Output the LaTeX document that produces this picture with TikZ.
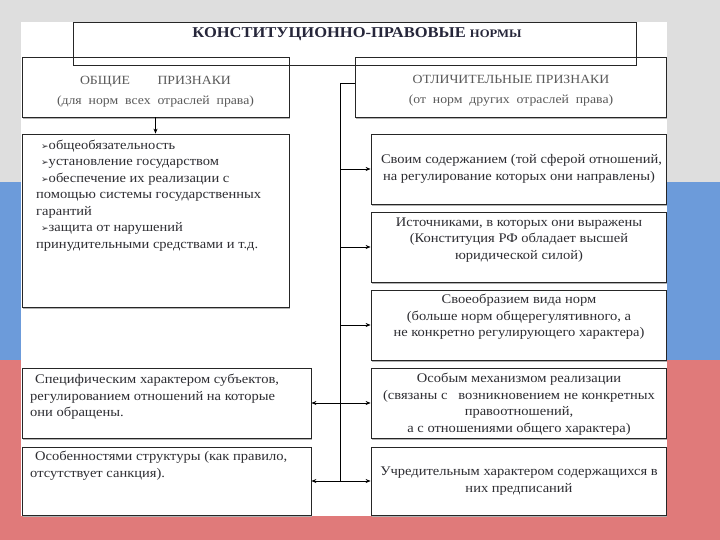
\documentclass[tikz,border=0pt]{standalone}
\usepackage{fontspec}
\setmainfont{Liberation Serif}[FakeStretch=1.1]
\newfontfamily\symfont{DejaVu Sans}
\usetikzlibrary{arrows.meta,shadows}
\definecolor{flagblue}{RGB}{108,155,218}
\definecolor{flagred}{RGB}{224,122,122}
\definecolor{bggray}{RGB}{222,222,222}
\definecolor{txtcol}{RGB}{45,45,50}
\definecolor{titlecol}{RGB}{38,38,58}
\newcommand{\bul}{{\symfont\fontsize{9}{9}\selectfont ➢}}
\tikzset{
  box/.style={draw=black!85, line width=0.8pt, fill=white, inner sep=0pt,
    drop shadow={shadow xshift=1pt, shadow yshift=-1.6pt, fill=black!30, opacity=1}},
  headtext/.style={text=black!65, align=center, inner sep=0pt, font=\fontsize{12.5}{19.5}\selectfont},
  bodytext/.style={text=txtcol, inner sep=0pt, font=\fontsize{13.2}{16.5}\selectfont},
  arr/.style={-{Stealth[length=5pt,width=4pt]}, line width=0.7pt}
}
\begin{document}
\begin{tikzpicture}[x=1pt,y=-1pt]
\useasboundingbox (0,0) rectangle (720,540);
%Фон
\fill[bggray] (0,0) rectangle (720,182);
\fill[flagblue] (0,182) rectangle (720,360);
\fill[flagred] (0,360) rectangle (720,540);
\fill[white] (21,22) rectangle (667,516);
%Шапка
\node[box, minimum width=267pt, minimum height=60pt] (general) at (155.5,87) {};
\node[box, minimum width=311pt, minimum height=60pt] (special) at (510.5,87) {};
\node[draw=black!85, line width=0.8pt, inner sep=0pt, minimum width=563pt, minimum height=43pt] (norms) at (354.5,43.5) {};
\node[text=titlecol, inner sep=0pt, font=\bfseries\fontsize{15}{15}\selectfont] (normstext) at (357,34.5)
  {КОНСТИТУЦИОННО-ПРАВОВЫЕ {\fontsize{11.5}{11.5}\selectfont НОРМЫ}};
\node[headtext] (generaltext) at (155.5,91.5) {ОБЩИЕ\hspace{2.2em}ПРИЗНАКИ\\(для\ \ норм\ \ всех\ \ отраслей\ \ права)};
\node[headtext] (specialtext) at (511,90.5) {ОТЛИЧИТЕЛЬНЫЕ ПРИЗНАКИ\\(от\ \ норм\ \ других\ \ отраслей\ \ права)};
%Общие признаки
\node[box, minimum width=267pt, minimum height=173pt] (list) at (155.5,220.5) {};
\node[bodytext, align=left, anchor=north west] (listtext) at (36,139.5)
  {\hspace*{5pt}\bul общеобязательность\\
   \hspace*{5pt}\bul установление государством\\
   \hspace*{5pt}\bul обеспечение их реализации с\\
   помощью системы государственных\\
   гарантий\\
   \hspace*{5pt}\bul защита от нарушений\\
   принудительными средствами и т.д.};
%Отличительные признаки
\node[box, minimum width=295pt, minimum height=70pt] (r1) at (518.5,169) {};
\node[box, minimum width=295pt, minimum height=70pt] (r2) at (518.5,247) {};
\node[box, minimum width=295pt, minimum height=70pt] (r3) at (518.5,325) {};
\node[box, minimum width=295pt, minimum height=70pt] (r4) at (518.5,403) {};
\node[box, minimum width=295pt, minimum height=68pt] (r5) at (518.5,481) {};
\node[box, minimum width=289pt, minimum height=70pt] (l1) at (166.5,403) {};
\node[box, minimum width=289pt, minimum height=68pt] (l2) at (166.5,481) {};
\node[bodytext, align=center] (r1text) at (519,169) {\hspace*{5pt}Своим содержанием (той сферой отношений,\\на регулирование которых они направлены)};
\node[bodytext, align=center] (r2text) at (519,240) {Источниками, в которых они выражены\\(Конституция РФ обладает высшей\\юридической силой)};
\node[bodytext, align=center] (r3text) at (519,317) {Своеобразием вида норм\\(больше норм общерегулятивного, а\\не конкретно регулирующего характера)};
\node[bodytext, align=center] (r4text) at (519,404) {Особым механизмом реализации\\(связаны с\ \ \ возникновением не конкретных\\правоотношений,\\а с отношениями общего характера)};
\node[bodytext, align=center] (r5text) at (519,481) {Учредительным характером содержащихся в\\них предписаний};
\node[bodytext, align=left, anchor=west] (l1text) at (30,397) {\hspace*{5pt}Специфическим характером субъектов,\\регулированием отношений на которые\\они обращены.};
\node[bodytext, align=left, anchor=west] (l2text) at (30,465.5) {\hspace*{5pt}Особенностями структуры (как правило,\\отсутствует санкция).};
%Связи
\coordinate (top) at (340,83);
\draw[line width=0.7pt] (special.west |- top) -- (top) -- (top |- r5.west);
\draw[arr] (general.south) -- (list.north);
\foreach \b in {r1,r2,r3,r4,r5}
  \draw[arr] (top |- \b.west) -- (\b.west);
\foreach \b in {l1,l2}
  \draw[arr] (top |- \b.east) -- (\b.east);
\end{tikzpicture}
\end{document}
